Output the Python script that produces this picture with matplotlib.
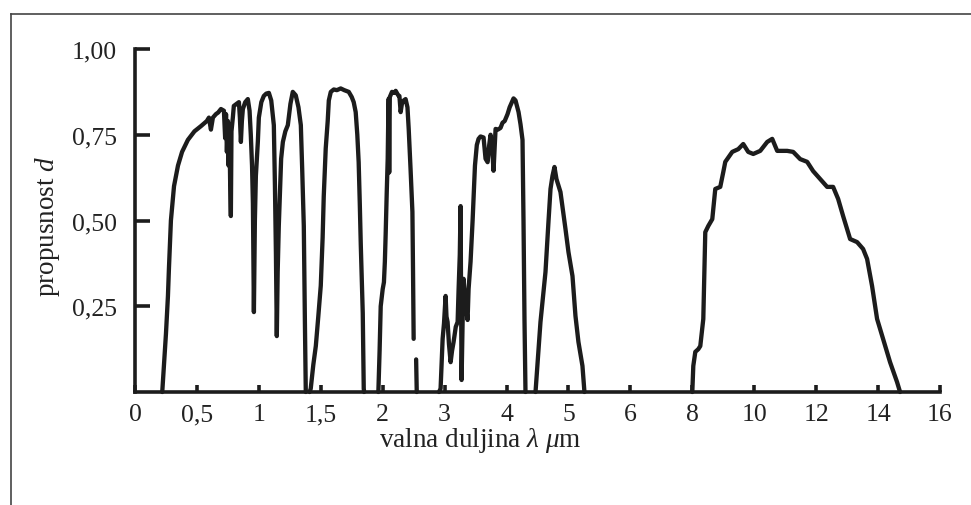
import numpy as np
import matplotlib
matplotlib.use("Agg")
import matplotlib.pyplot as plt
from matplotlib.lines import Line2D

# ---- axis definitions -------------------------------------------------------
tick_values = [0, 0.5, 1, 1.5, 2, 3, 4, 5, 6, 8, 10, 12, 14, 16]
tick_labels = ["0", "0,5", "1", "1,5", "2", "3", "4", "5", "6", "8",
               "10", "12", "14", "16"]
ytick_values = [0.25, 0.5, 0.75, 1.0]
ytick_labels = ["0,25", "0,50", "0,75", "1,00"]

# ---- transmittance bands (wavelength in um, transmittance 0..1) -------------
band1_x = [0.22, 0.25, 0.266, 0.274, 0.29, 0.315, 0.347, 0.38, 0.427, 0.48,
           0.532, 0.58, 0.597, 0.613, 0.629, 0.653, 0.672, 0.694, 0.718, 0.728,
           0.735, 0.742, 0.75, 0.756, 0.762, 0.768, 0.774, 0.779, 0.79, 0.798,
           0.82, 0.839, 0.847, 0.855, 0.863, 0.871, 0.89, 0.911, 0.925, 0.935,
           0.945, 0.952, 0.96, 0.968, 0.976, 0.992, 1.0, 1.02, 1.04, 1.06,
           1.081, 1.1, 1.121, 1.13, 1.138, 1.145, 1.152, 1.161, 1.18, 1.194,
           1.214, 1.234, 1.255, 1.274, 1.298, 1.32, 1.339, 1.35, 1.363, 1.372,
           1.379]
band1_y = [0.0, 0.17, 0.28, 0.36, 0.5, 0.6, 0.66, 0.70, 0.735, 0.76,
           0.775, 0.79, 0.80, 0.765, 0.80, 0.81, 0.815, 0.825, 0.82, 0.74,
           0.81, 0.70, 0.79, 0.66, 0.78, 0.62, 0.513, 0.76, 0.80, 0.834,
           0.84, 0.845, 0.80, 0.729, 0.79, 0.825, 0.845, 0.854, 0.82, 0.75,
           0.66, 0.55, 0.233, 0.50, 0.63, 0.73, 0.80, 0.845, 0.863, 0.87,
           0.872, 0.85, 0.778, 0.6, 0.4, 0.163, 0.35, 0.484, 0.68, 0.729,
           0.76, 0.778, 0.84, 0.875, 0.865, 0.83, 0.778, 0.65, 0.484, 0.2,
           0.0]

band2_x = [1.41, 1.419, 1.44, 1.46, 1.48, 1.5, 1.515, 1.524, 1.54, 1.556,
           1.565, 1.581, 1.605, 1.63, 1.661, 1.69, 1.726, 1.75, 1.766, 1.782,
           1.795, 1.806, 1.815, 1.823, 1.839, 1.847, 1.85]
band2_y = [0.0, 0.01, 0.08, 0.134, 0.22, 0.31, 0.45, 0.57, 0.71, 0.79,
           0.85, 0.875, 0.882, 0.88, 0.885, 0.88, 0.875, 0.86, 0.845, 0.816,
           0.75, 0.67, 0.55, 0.43, 0.23, 0.01, 0.0]

band3_x = [1.965, 1.975, 1.984, 2.0, 2.02, 2.035, 2.048, 2.065, 2.081, 2.09,
           2.097, 2.105, 2.115, 2.15, 2.19, 2.21, 2.25, 2.27, 2.29, 2.31,
           2.34, 2.37, 2.40, 2.42, 2.45, 2.48, 2.49, 2.50]
band3_y = [0.0, 0.12, 0.25, 0.30, 0.32, 0.38, 0.46, 0.58, 0.68, 0.80,
           0.855, 0.64, 0.86, 0.875, 0.872, 0.878, 0.865, 0.863, 0.816, 0.84,
           0.85, 0.854, 0.83, 0.767, 0.65, 0.525, 0.35, 0.155]

band3b_x = [2.54, 2.55]
band3b_y = [0.095, 0.0]

band4_x = [2.91, 2.935, 2.968, 2.99, 3.016, 3.03, 3.048, 3.07, 3.097, 3.12,
           3.145, 3.18, 3.21, 3.226, 3.245, 3.258, 3.265, 3.274, 3.29, 3.306,
           3.33, 3.35, 3.371, 3.387, 3.419, 3.452, 3.49, 3.52, 3.548, 3.58,
           3.629, 3.661, 3.694, 3.72, 3.742, 3.765, 3.79, 3.81, 3.823, 3.86,
           3.903, 3.935, 3.97, 4.016, 4.05, 4.113, 4.145, 4.194, 4.226, 4.258,
           4.274, 4.29, 4.306]
band4_y = [0.0, 0.01, 0.155, 0.2, 0.28, 0.22, 0.204, 0.14, 0.087, 0.12,
           0.146, 0.19, 0.204, 0.30, 0.40, 0.542, 0.30, 0.035, 0.20, 0.33,
           0.27, 0.24, 0.21, 0.30, 0.38, 0.50, 0.66, 0.72, 0.738, 0.745,
           0.742, 0.68, 0.67, 0.72, 0.75, 0.72, 0.645, 0.72, 0.767, 0.765,
           0.77, 0.785, 0.79, 0.81, 0.83, 0.856, 0.85, 0.816, 0.78, 0.735,
           0.50, 0.21, 0.0]

band5_x = [4.468, 4.548, 4.629, 4.677, 4.71, 4.742, 4.774, 4.806, 4.871,
           4.952, 5.0, 5.065, 5.113, 5.161, 5.226, 5.258]
band5_y = [0.0, 0.204, 0.35, 0.496, 0.592, 0.63, 0.656, 0.621, 0.583,
           0.475, 0.408, 0.338, 0.222, 0.146, 0.076, 0.0]

band6_x = [8.0, 8.032, 8.097, 8.194, 8.258, 8.355, 8.419, 8.516, 8.645, 8.742,
           8.903, 9.0, 9.065, 9.29, 9.484, 9.645, 9.806, 9.968, 10.194, 10.419,
           10.581, 10.742, 11.065, 11.258, 11.484, 11.71, 11.903, 12.129,
           12.355, 12.548, 12.71, 12.871, 13.097, 13.323, 13.516, 13.645,
           13.806, 13.968, 14.161, 14.387, 14.613, 14.71]
band6_y = [0.0, 0.076, 0.117, 0.125, 0.134, 0.213, 0.466, 0.484, 0.504, 0.592,
           0.598, 0.641, 0.671, 0.70, 0.708, 0.723, 0.70, 0.694, 0.703, 0.729,
           0.738, 0.703, 0.703, 0.70, 0.679, 0.671, 0.644, 0.621,
           0.598, 0.598, 0.563, 0.513, 0.446, 0.437, 0.417, 0.388,
           0.309, 0.213, 0.155, 0.087, 0.029, 0.0]

bands = [(band1_x, band1_y), (band2_x, band2_y), (band3_x, band3_y),
         (band3b_x, band3b_y), (band4_x, band4_y), (band5_x, band5_y),
         (band6_x, band6_y)]

# ---- style ------------------------------------------------------------------
plt.rcParams['font.family'] = ['Liberation Serif', 'DejaVu Serif']
plt.rcParams['mathtext.fontset'] = 'custom'
plt.rcParams['mathtext.rm'] = 'Liberation Serif'
plt.rcParams['mathtext.it'] = 'Liberation Serif:italic'

ink = '#1c1c1c'
W, H = 971, 506
fig = plt.figure(figsize=(W / 100, H / 100), dpi=100)
fig.patch.set_facecolor('white')

x0, x1, y0, y1 = 135, 940, 50, 393
ax = fig.add_axes([x0 / W, 1 - y1 / H, (x1 - x0) / W, (y1 - y0) / H])

# piecewise-linear wavelength axis (labels equally spaced)
grid_pos = np.arange(len(tick_values), dtype=float)
ext_vals = np.concatenate([[-1.0], tick_values, [18.0]])
ext_pos = np.concatenate([[-2.0], grid_pos, [14.0]])


def fwd(x):
    return np.interp(x, ext_vals, ext_pos)


def inv(p):
    return np.interp(p, ext_pos, ext_vals)


ax.set_xscale('function', functions=(fwd, inv))
ax.set_xlim(0, 16)
ax.set_ylim(0, 1)

for bx, by in bands:
    ax.plot(bx, by, color=ink, lw=3.1, solid_joinstyle='round',
            solid_capstyle='round', clip_on=False, zorder=3)

for s in ('top', 'right'):
    ax.spines[s].set_visible(False)
for s in ('left', 'bottom'):
    ax.spines[s].set_linewidth(2.6)
    ax.spines[s].set_color(ink)
ax.spines['left'].set_bounds(0, 1)
ax.spines['bottom'].set_bounds(0, 16)

fs = 18.5
ax.set_xticks(tick_values)
ax.set_xticklabels(tick_labels)
ax.set_xticks([16], minor=True)
ax.set_yticks(ytick_values)
ax.set_yticklabels(ytick_labels)
ax.tick_params(axis='x', which='major', direction='in', length=5, width=2.6,
               color=ink, pad=8, labelsize=fs, labelcolor='#222222')
ax.tick_params(axis='x', which='minor', direction='in', length=11, width=2.6,
               color=ink)
ax.tick_params(axis='y', direction='in', length=11, width=2.6, color=ink,
               pad=13, labelsize=fs, labelcolor='#222222')

fig.text(480 / W, 1 - 447 / H, r'valna duljina $\lambda$ $\mu$m',
         ha='center', va='baseline', fontsize=19.5, color='#222222')
fig.text(47 / W, 1 - 226 / H, r'propusnost $d$', rotation=90,
         ha='center', va='center', fontsize=19.5, color='#222222')

# outer frame (left and top edges)
fig.add_artist(Line2D([11 / W, 11 / W], [0, 1 - 15 / H],
                      transform=fig.transFigure, color='#444444', lw=1.2))
fig.add_artist(Line2D([11 / W, 1.0], [1 - 15 / H, 1 - 15 / H],
                      transform=fig.transFigure, color='#444444', lw=1.2))

fig.savefig('out.png', dpi=100, facecolor='white')
